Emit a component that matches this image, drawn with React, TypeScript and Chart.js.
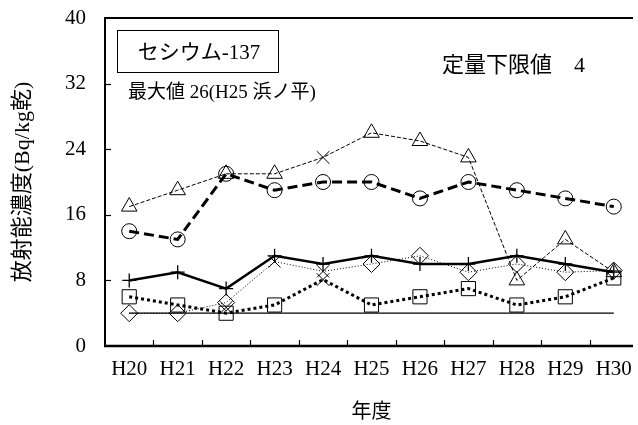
import React, { useEffect, useRef } from 'react';
import { Chart, registerables } from 'chart.js';

Chart.register(...registerables);

// ---- data ----
const years = ['H20', 'H21', 'H22', 'H23', 'H24', 'H25', 'H26', 'H27', 'H28', 'H29', 'H30'];
const triangleSeries = [17, 19, 21, 21, 23, 26, 25, 23, 8, 13, 9];
const circleSeries = [14, 13, 21, 19, 20, 20, 18, 20, 19, 18, 17];
const plusSeries = [8, 9, 7, 11, 10, 11, 10, 10, 11, 10, 9];
const diamondSeries = [4, 4, 5.3, 10.3, 9.1, 10, 11, 9, 10, 9, 9.2];
const squareSeries = [6, 5, 4, 5, 8.1, 5, 6, 7, 5, 6, 8.3];
const crossSeries = [null, null, 4.7, null, null, null, null, null, null, null, null];
const limitSeries = [4, 4, 4, 4, 4, 4, 4, 4, 4, 4, 4];
const yMin = 0;
const yMax = 40;
const yStep = 8;

const nuclideLabel = 'セシウム-137';
const maxLabel = '最大値 26(H25 浜ノ平)';
const limitLabel = '定量下限値\u30004';
const yTitle = '放射能濃度(Bq/kg乾)';
const xTitle = '年度';

const FONT = '"Liberation Serif", "Noto Sans CJK JP", serif';

const stylesFor = (base: string, crossIdx: number[]) =>
  years.map((_, i) => (crossIdx.includes(i) ? 'crossRot' : base));

const framePlugin = {
  id: 'frame',
  afterDraw(chart: any) {
    const { ctx, chartArea: a, scales } = chart;
    const xs = scales.x;
    const ys = scales.y;
    const rightEnd = a.right - 5;
    ctx.save();
    ctx.strokeStyle = '#000';
    ctx.lineWidth = 2;
    ctx.beginPath();
    ctx.moveTo(a.left, a.top);
    ctx.lineTo(rightEnd, a.top);
    ctx.stroke();
    ctx.lineWidth = 2.5;
    ctx.beginPath();
    ctx.moveTo(a.left - 1, a.bottom);
    ctx.lineTo(rightEnd, a.bottom);
    ctx.stroke();
    ctx.lineWidth = 1.2;
    ys.ticks.forEach((t: any) => {
      if (t.value > yMin && t.value < yMax) {
        const py = Math.round(ys.getPixelForValue(t.value)) + 0.5;
        ctx.beginPath();
        ctx.moveTo(a.left, py);
        ctx.lineTo(a.left + 6, py);
        ctx.stroke();
      }
    });
    for (let i = 1; i < years.length; i++) {
      const px = Math.round((xs.getPixelForValue(i - 1) + xs.getPixelForValue(i)) / 2) + 0.5;
      ctx.beginPath();
      ctx.moveTo(px, a.bottom);
      ctx.lineTo(px, a.bottom - 6);
      ctx.stroke();
    }
    // annotation texts
    ctx.fillStyle = '#000';
    ctx.textBaseline = 'middle';
    ctx.lineWidth = 1;
    ctx.strokeRect(a.left + 12.5, a.top + 12.5, 161, 42);
    ctx.font = `21px ${FONT}`;
    ctx.textAlign = 'center';
    ctx.fillText(nuclideLabel, a.left + 94, a.top + 35);
    ctx.textAlign = 'left';
    ctx.font = `19px ${FONT}`;
    ctx.fillText(maxLabel, a.left + 23, a.top + 75);
    ctx.font = `22px ${FONT}`;
    ctx.fillText(limitLabel, a.left + 337, a.top + 48);
    ctx.restore();
  },
};

export default function App() {
  const ref = useRef<HTMLCanvasElement | null>(null);
  useEffect(() => {
    if (!ref.current) return;
    const common = {
      borderColor: '#000',
      pointBorderColor: '#000',
      pointBackgroundColor: 'rgba(0,0,0,0)',
      pointBorderWidth: 1,
      fill: false,
      tension: 0,
      spanGaps: true,
    };
    const chart = new Chart(ref.current, {
      type: 'line',
      data: {
        labels: years,
        datasets: [
          { ...common, label: 'limit', data: limitSeries, borderWidth: 1.2, pointRadius: 0 },
          {
            ...common,
            label: 'square',
            data: squareSeries,
            borderWidth: 3,
            borderDash: [3, 3],
            pointStyle: stylesFor('rect', [4]),
            pointRadius: years.map((_, i) => (i === 4 ? 9 : 10)),
          },
          {
            ...common,
            label: 'diamond',
            data: diamondSeries,
            borderWidth: 1,
            borderDash: [1, 2],
            pointStyle: stylesFor('rectRot', [3, 4]),
            pointRadius: 8.5,
          },
          {
            ...common,
            label: 'plus',
            data: plusSeries,
            borderWidth: 2.5,
            pointStyle: 'cross',
            pointRadius: 7,
            pointBorderWidth: 1.3,
          },
          {
            ...common,
            label: 'circle',
            data: circleSeries,
            borderWidth: 3,
            borderDash: [10, 5],
            pointStyle: 'circle',
            pointRadius: 7.5,
          },
          {
            ...common,
            label: 'triangle',
            data: triangleSeries,
            borderWidth: 1,
            borderDash: [4, 2],
            pointStyle: stylesFor('triangle', [4]),
            pointRadius: 9,
          },
          {
            ...common,
            label: 'cross',
            data: crossSeries,
            showLine: false,
            spanGaps: false,
            pointStyle: 'crossRot',
            pointRadius: 9,
          },
        ],
      },
      options: {
        responsive: false,
        animation: false,
        devicePixelRatio: 1,
        layout: { autoPadding: false, padding: { top: 18, right: 0, left: 0, bottom: 0 } },
        plugins: { legend: { display: false }, tooltip: { enabled: false }, title: { display: false } },
        scales: {
          x: {
            type: 'category',
            offset: true,
            grid: { display: false, drawTicks: false },
            border: { display: false },
            ticks: { color: '#000', font: { family: FONT, size: 21 }, padding: 11, maxRotation: 0, autoSkip: false },
            title: { display: true, text: xTitle, color: '#000', font: { family: FONT, size: 20 }, padding: { top: 0, bottom: 0 } },
            afterFit: (s: any) => {
              s.height = 79;
              s.paddingLeft = 0;
              s.paddingRight = 0;
            },
          },
          y: {
            min: yMin,
            max: yMax,
            grid: { display: false, drawTicks: false },
            border: { display: true, color: '#000', width: 2 },
            ticks: { stepSize: yStep, color: '#000', font: { family: FONT, size: 21 }, padding: 19 },
            title: { display: true, text: yTitle, color: '#000', font: { family: FONT, size: 22 }, padding: { top: 10, bottom: 0 } },
            afterFit: (s: any) => {
              s.width = 105;
              s.paddingTop = 0;
              s.paddingBottom = 0;
            },
          },
        },
      },
      plugins: [framePlugin],
    });
    return () => chart.destroy();
  }, []);
  return (
    <div style={{ position: 'absolute', left: 0, top: 0, width: 638, height: 425, background: '#fff' }}>
      <canvas ref={ref} width={638} height={425} />
    </div>
  );
}
